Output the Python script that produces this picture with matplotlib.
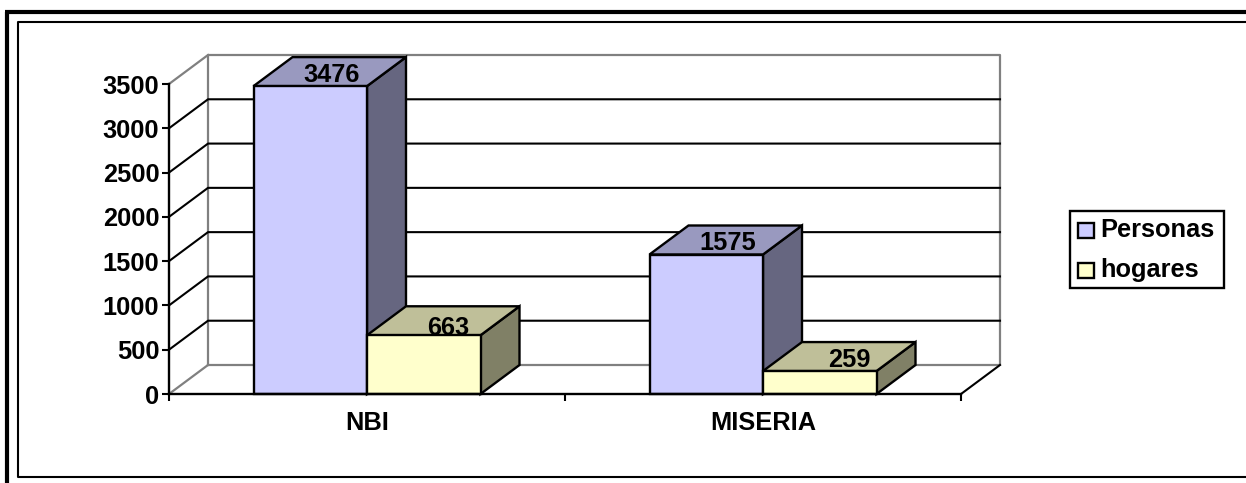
import numpy as np
import matplotlib
matplotlib.use('Agg')
import matplotlib.pyplot as plt
from matplotlib.patches import Polygon, Rectangle

plt.rcParams['font.family'] = ['Liberation Sans', 'DejaVu Sans']
plt.rcParams['font.weight'] = 'bold'

categories = ['NBI', 'MISERIA']
personas = [3476, 1575]
hogares = [663, 259]
series_names = ['Personas', 'hogares']
yticks = [0, 500, 1000, 1500, 2000, 2500, 3000, 3500]

W, H = 1246, 483
fig = plt.figure(figsize=(W/100, H/100), dpi=100, facecolor='white')

# whole figure overlay in pixels, for the frame
bg = fig.add_axes([0, 0, 1, 1])
bg.set_xlim(0, W)
bg.set_ylim(H, 0)
bg.axis('off')
bg.plot([7, 7], [483, 12], color='black', lw=3.0, solid_capstyle='butt')
bg.plot([5, 1246], [12, 12], color='black', lw=3.0, solid_capstyle='butt')
bg.plot([1246, 18, 18, 1246], [22, 22, 477, 477], color='black', lw=1.5)

# main axes = the front plane of the 3d box
left, right, top, bottom = 169, 961, 84, 394
ax = fig.add_axes([left/W, 1-bottom/H, (right-left)/W, (bottom-top)/H])
ax.set_xlim(0, 2)
ax.set_ylim(0, 3500)
ax.patch.set_visible(False)

# depth of the box in data units (39 px across, 29 px up)
dx = 39/(right-left)*2
dy = 29/(bottom-top)*3500
gray = '#808080'

ax.plot([dx, dx, 2+dx, 2+dx, dx], [dy, 3500+dy, 3500+dy, dy, dy], color=gray, lw=1.6, clip_on=False, zorder=1)
ax.plot([0, dx], [3500, 3500+dy], color=gray, lw=1.6, clip_on=False, zorder=1)
ax.plot([0, dx], [0, dy], color=gray, lw=1.6, clip_on=False, zorder=1)
ax.plot([2, 2+dx], [0, dy], color='black', lw=1.5, clip_on=False, zorder=1)
for v in yticks[1:-1]:
    ax.plot([0, dx, 2+dx], [v, v+dy, v+dy], color='black', lw=1.5, clip_on=False, zorder=1)

bar_w = 113.5/(right-left)*2


def bar3d(x0, val, front, tp, side, z, nudge):
    ax.add_patch(Polygon([(x0+bar_w, 0), (x0+bar_w+dx, dy), (x0+bar_w+dx, val+dy), (x0+bar_w, val)],
                         fc=side, ec='black', lw=1.7, clip_on=False, zorder=z))
    ax.add_patch(Polygon([(x0, val), (x0+dx, val+dy), (x0+bar_w+dx, val+dy), (x0+bar_w, val)],
                         fc=tp, ec='black', lw=1.7, clip_on=False, zorder=z))
    ax.bar(x0, val, bar_w, align='edge', color=front, edgecolor='black', lw=1.7, clip_on=False, zorder=z)
    # label offset in px from the centre of the top face front edge
    ax.annotate(str(val), (x0+bar_w/2+dx/2, val), xytext=(nudge[0]*0.72, nudge[1]*0.72),
                textcoords='offset points', ha='center', va='center', fontsize=18.3,
                fontweight='bold', color='black', zorder=10, annotation_clip=False)


p_nudge = [(2, 11), (2, 11)]
h_nudge = [(5, 7), (10, 11)]
for i in range(len(categories)):
    bar3d(i+0.5-bar_w, personas[i], '#CCCCFF', '#9999BF', '#666680', 3, p_nudge[i])
    bar3d(i+0.5, hogares[i], '#FFFFCC', '#BFBF99', '#808066', 4, h_nudge[i])

for s in ['top', 'right']:
    ax.spines[s].set_visible(False)
for s in ['left', 'bottom']:
    ax.spines[s].set_linewidth(1.7)
    ax.spines[s].set_zorder(6)
ax.set_yticks(yticks)
ax.set_xticks([0, 1, 2])
ax.set_xticklabels([])
ax.set_xticks([0.5, 1.5], minor=True)
ax.set_xticklabels(categories, minor=True)
ax.tick_params(axis='x', which='major', direction='out', length=5, width=1.5)
ax.tick_params(axis='x', which='minor', length=0, pad=12, labelsize=18.3)
ax.tick_params(axis='y', direction='out', length=5, width=1.5, pad=2, labelsize=18.3)

# legend
bg.add_patch(Rectangle((1070, 211), 154, 77, fc='white', ec='black', lw=1.7, zorder=5))
for y, c, name in zip([230, 270], ['#CCCCFF', '#FFFFCC'], series_names):
    bg.add_patch(Rectangle((1078, y-7.5), 15.5, 15, fc=c, ec='black', lw=1.7, zorder=6))
    bg.text(1100, y, name, va='center', ha='left', fontsize=18.3, fontweight='bold', zorder=6)

fig.savefig('out.png', dpi=100)
